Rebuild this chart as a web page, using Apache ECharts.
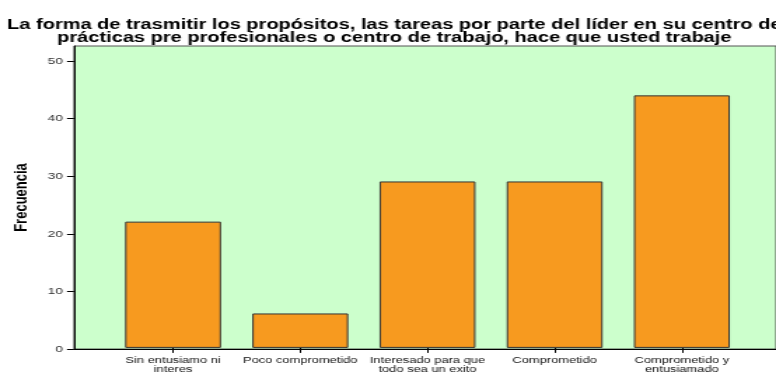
<!DOCTYPE html>
<html>
<head>
<meta charset="utf-8">
<script src="https://cdn.jsdelivr.net/npm/echarts@6/dist/echarts.min.js"></script>
<style>
  html, body { margin: 0; padding: 0; background: #fff; }
  #wrap { width: 776px; height: 374px; overflow: hidden; position: relative; background: #fff; }
  /* the chart is laid out narrow and widened horizontally, giving the wide lettering */
  #chart { width: 554px; height: 374px; transform: scaleX(1.40072); transform-origin: 0 0; }
</style>
</head>
<body>
<div id="wrap"><div id="chart"></div></div>
<script>
const titleText = 'La forma de trasmitir los propósitos, las tareas por parte del líder en su centro de\nprácticas pre profesionales o centro de trabajo, hace que usted trabaje';
const categories = [
  'Sin entusiamo ni\ninteres',
  'Poco comprometido',
  'Interesado para que\ntodo sea un exito',
  'Comprometido',
  'Comprometido y\nentusiamado'
];
const frequencies = [22, 6, 29, 29, 44];
const yTicks = [0, 10, 20, 30, 40, 50];
const yMax = 52.6;
const yName = 'Frecuencia';

const chart = echarts.init(document.getElementById('chart'), null, { renderer: 'canvas' });

const font = 'Liberation Sans, Arial, Helvetica, sans-serif';

chart.setOption({
  animation: false,
  backgroundColor: '#ffffff',
  title: {
    text: titleText,
    left: 276.5,
    top: 14,
    textAlign: 'center',
    textStyle: {
      fontFamily: font,
      fontSize: 14.3,
      fontWeight: 'bold',
      color: '#000000',
      lineHeight: 12.8
    }
  },
  grid: [
    { // plot frame with the light green backdrop
      left: 52.83, right: -3.6, top: 46, bottom: 25,
      show: true, backgroundColor: '#CCFFCC', borderColor: '#555555', borderWidth: 1
    },
    { // band area holding the five categories
      left: 78.17, right: 21.8, top: 46, bottom: 25
    }
  ],
  xAxis: [
    {
      gridIndex: 0, type: 'value', min: 0, max: 1,
      axisLine: { show: true, lineStyle: { color: '#000000', width: 1 } },
      axisTick: { show: false }, axisLabel: { show: false }, splitLine: { show: false }
    },
    {
      gridIndex: 1, type: 'category', data: categories,
      axisLine: { show: false },
      axisTick: { show: true, alignWithLabel: true, length: 5, lineStyle: { color: '#000000' } },
      axisLabel: {
        margin: 7.5, fontFamily: font, fontSize: 9.2, lineHeight: 9.3,
        color: '#111111', interval: 0
      },
      splitLine: { show: false }
    }
  ],
  yAxis: [
    {
      gridIndex: 0, type: 'value', min: 0, max: yMax,
      name: yName, nameLocation: 'middle', nameGap: 31, nameRotate: 90,
      nameTextStyle: { fontFamily: font, fontSize: 13, fontWeight: 'bold', color: '#000000' },
      axisLine: { show: true, lineStyle: { color: '#000000', width: 1 } },
      axisTick: { show: true, length: 5, customValues: yTicks, lineStyle: { color: '#000000' } },
      axisLabel: { customValues: yTicks, margin: 8, fontFamily: font, fontSize: 9.8, color: '#333333' },
      splitLine: { show: false }
    },
    {
      gridIndex: 1, type: 'value', min: 0, max: yMax, show: false
    }
  ],
  series: [
    {
      type: 'bar',
      xAxisIndex: 1, yAxisIndex: 1,
      data: frequencies,
      barWidth: 68.5,
      itemStyle: { color: '#F79A1F', borderColor: '#333333', borderWidth: 1 }
    }
  ]
});
</script>
</body>
</html>
